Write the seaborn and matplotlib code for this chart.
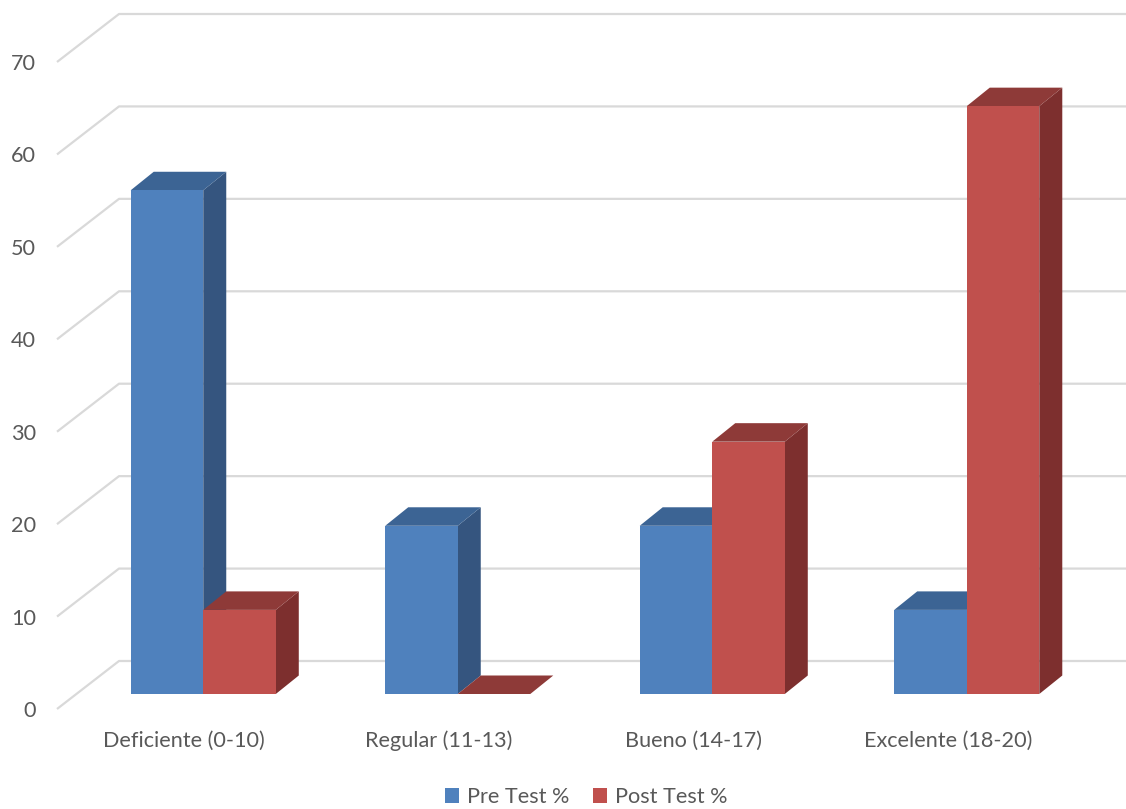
import numpy as np
import pandas as pd
import matplotlib.pyplot as plt
import seaborn as sns
from matplotlib.patches import Polygon
from matplotlib.transforms import ScaledTranslation

# Chart data (percent of students per grade band)
categories = ["Deficiente (0-10)", "Regular (11-13)", "Bueno (14-17)", "Excelente (18-20)"]
series_names = ["Pre Test %", "Post Test %"]
pre_test = [54.5, 18.2, 18.2, 9.1]
post_test = [9.1, 0.0, 27.3, 63.6]
y_ticks = [0, 10, 20, 30, 40, 50, 60, 70]

front_colors = {"Pre Test %": "#4F81BD", "Post Test %": "#C0504D"}
side_colors = {"Pre Test %": "#35557F", "Post Test %": "#7D2F2E"}
top_colors = {"Pre Test %": "#3C6494", "Post Test %": "#8E3A38"}

df = pd.DataFrame({
    "Categoria": categories * 2,
    "Serie": [series_names[0]] * 4 + [series_names[1]] * 4,
    "Valor": pre_test + post_test,
})

sns.set_theme(style="white")
plt.rcParams["font.family"] = ["Lato", "DejaVu Sans"]
text_color = "#595959"
fs = 15.6

W, H, DPI = 1126, 809, 100
fig = plt.figure(figsize=(W / DPI, H / DPI), dpi=DPI)

# front plane of the floor: left edge at px 57, value 0 at px 709 from top, 70 at px 62
ax_left, ax_right = 57, 1075
ax_bottom, ax_top = 709, 62
ax = fig.add_axes([ax_left / W, (H - ax_bottom) / H,
                   (ax_right - ax_left) / W, (ax_bottom - ax_top) / H])
ax.set_xlim(-0.5, 3.5)
ax.set_ylim(0, 70)

px_x = (ax_right - ax_left) / 4.0        # pixels per category unit
px_y = (ax_bottom - ax_top) / 70.0       # pixels per value unit

sns.barplot(data=df, x="Categoria", y="Valor", hue="Serie", palette=front_colors,
            width=0.57, linewidth=0, saturation=1, ax=ax, legend=True)

# walls / gridlines (back wall + left side wall)
wall_dx, wall_dy = 62 / px_x, 48 / px_y
for v in y_ticks:
    ax.plot([-0.5, -0.5 + wall_dx, 3.5 + wall_dx], [v, v + wall_dy, v + wall_dy],
            color="#D9D9D9", lw=1.6, clip_on=False, zorder=0.5, solid_capstyle="butt")

# bars sit a bit back from the front edge of the floor
shift = ScaledTranslation(19 / DPI, 15 / DPI, fig.dpi_scale_trans)
depth_dx, depth_dy = 23 / px_x, 18.5 / px_y

bars = sorted([p for p in ax.patches if p.get_width() > 0], key=lambda p: p.get_x())
for i, p in enumerate(bars):
    x, w, h = p.get_x(), p.get_width(), p.get_height()
    fc = p.get_facecolor()
    name = "Pre Test %" if np.allclose(fc[:3], plt.matplotlib.colors.to_rgb(front_colors["Pre Test %"])) else "Post Test %"
    z = 2 + i
    p.set_transform(ax.transData + shift)
    p.set_zorder(z + 0.3)
    side = Polygon([(x + w, 0), (x + w, h), (x + w + depth_dx, h + depth_dy), (x + w + depth_dx, depth_dy)],
                   closed=True, facecolor=side_colors[name], edgecolor="none",
                   transform=ax.transData + shift, zorder=z, clip_on=False)
    top = Polygon([(x, h), (x + w, h), (x + w + depth_dx, h + depth_dy), (x + depth_dx, h + depth_dy)],
                  closed=True, facecolor=top_colors[name], edgecolor="none",
                  transform=ax.transData + shift, zorder=z + 0.1, clip_on=False)
    ax.add_patch(side)
    ax.add_patch(top)

for s in ax.spines.values():
    s.set_visible(False)
ax.grid(False)
ax.set_xlabel("")
ax.set_ylabel("")
ax.set_yticks(y_ticks)
ax.set_yticklabels([str(v) for v in y_ticks])
ax.tick_params(axis="y", length=0, pad=15, labelsize=fs, labelcolor=text_color)
ax.tick_params(axis="x", length=0, pad=15.5, labelsize=fs, labelcolor=text_color)

handles, labels = ax.get_legend_handles_labels()
ax.legend(handles, labels, loc="center", bbox_to_anchor=(586 / W, 1 - 797 / H),
          bbox_transform=fig.transFigure, ncol=2, frameon=False, fontsize=fs,
          handlelength=0.65, handleheight=0.65, handletextpad=0.35, columnspacing=1.1,
          labelcolor=text_color)

fig.savefig("out.png", dpi=DPI)
